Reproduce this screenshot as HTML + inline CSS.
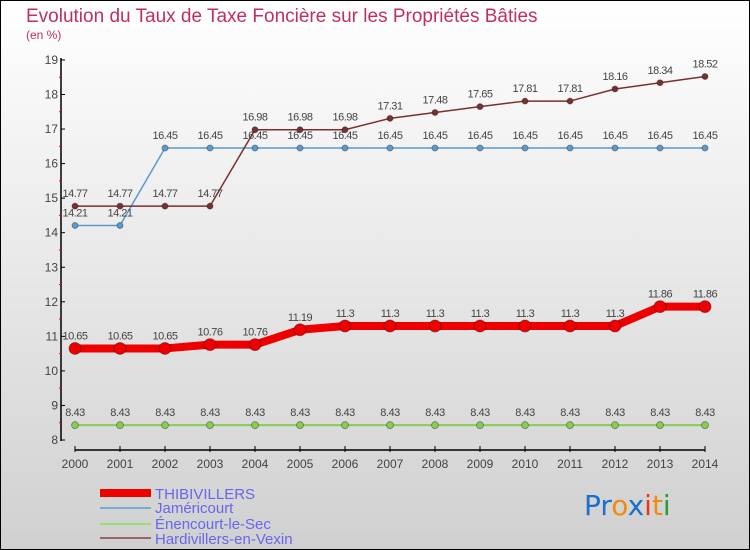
<!DOCTYPE html>
<html><head><meta charset="utf-8"><style>
body{margin:0}
#c{width:750px;height:550px;position:relative;box-sizing:border-box;border:1px solid #000;background:linear-gradient(#ffffff,#d0d0d0);font-family:"Liberation Sans",sans-serif;overflow:hidden}
</style></head><body>
<div id="c">
<svg id="s" width="750" height="550" style="position:absolute;left:-1px;top:-1px">
<text x="26" y="22" font-size="19" fill="#c0305a">Evolution du Taux de Taxe Foncière sur les Propriétés Bâties</text>
<text x="26" y="39" font-size="12" fill="#c0305a">(en %)</text>
<g id="plot"></g>
<g>
<rect x="100" y="489" width="51" height="8" fill="#ee0000"/>
<text x="155" y="499" font-size="15" fill="#6666ee">THIBIVILLERS</text>
<rect x="100" y="507" width="51" height="2" fill="#7aaacc"/>
<text x="155" y="513" font-size="15" fill="#6666ee">Jaméricourt</text>
<rect x="100" y="523" width="51" height="2" fill="#99dd77"/>
<text x="155" y="529" font-size="15" fill="#6666ee">Énencourt-le-Sec</text>
<rect x="100" y="537" width="51" height="2" fill="#996666"/>
<text x="155" y="544" font-size="15" fill="#6666ee">Hardivillers-en-Vexin</text>
</g>
<g font-size="28" font-family="'DejaVu Sans',sans-serif">
<text x="584" y="515"><tspan fill="#1a70cc">Pr</tspan><tspan fill="#f08a10">o</tspan><tspan fill="#1a70cc">x</tspan><tspan fill="#ee3311">i</tspan><tspan fill="#f08a10">t</tspan><tspan fill="#2a9a3a">i</tspan></text>
</g>
</svg>
</div>
<script>
const years=[2000,2001,2002,2003,2004,2005,2006,2007,2008,2009,2010,2011,2012,2013,2014];
const thib=[10.65,10.65,10.65,10.76,10.76,11.19,11.3,11.3,11.3,11.3,11.3,11.3,11.3,11.86,11.86];
const jame=[14.21,14.21,16.45,16.45,16.45,16.45,16.45,16.45,16.45,16.45,16.45,16.45,16.45,16.45,16.45];
const enen=[8.43,8.43,8.43,8.43,8.43,8.43,8.43,8.43,8.43,8.43,8.43,8.43,8.43,8.43,8.43];
const hard=[14.77,14.77,14.77,14.77,16.98,16.98,16.98,17.31,17.48,17.65,17.81,17.81,18.16,18.34,18.52];
const yTicks=[8,9,10,11,12,13,14,15,16,17,18,19];
const NS="http://www.w3.org/2000/svg";
const g=document.getElementById('plot');
const X=i=>75+i*45;
const Y=v=>440-(v-8)*34.55;
function el(t,a){const e=document.createElementNS(NS,t);for(const k in a)e.setAttribute(k,a[k]);g.appendChild(e);return e;}
let ax=el('line',{x1:61,y1:58,x2:61,y2:441,stroke:'#000','stroke-width':1.5});


let bx=el('line',{x1:75,y1:450,x2:705,y2:450,stroke:'#000','stroke-width':1.5});


yTicks.forEach(v=>{
  el('line',{x1:61,y1:Y(v),x2:65,y2:Y(v),stroke:'#000'});
  if(v<19)el('line',{x1:59,y1:Y(v+0.5),x2:62,y2:Y(v+0.5),stroke:'#e00'});
  const t=el('text',{x:58,y:Y(v)+4,'font-size':12,fill:'#444','text-anchor':'end'});
  t.textContent=v;
  
  
});
years.forEach((yr,i)=>{
  el('line',{x1:X(i),y1:446,x2:X(i),y2:452,stroke:'#000'});
  const t=el('text',{x:X(i),y:468,'font-size':12,fill:'#444','text-anchor':'middle'});
  t.textContent=yr;
  
  
});
function series(d,color,w,r,name,lab){
  const p=el('polyline',{points:d.map((v,i)=>X(i)+','+Y(v)).join(' '),fill:'none',stroke:color,'stroke-width':w,'stroke-linejoin':'round'});
  
  
  d.forEach((v,i)=>{
    const c=el('circle',{cx:X(i),cy:Y(v),r:r,fill:color,stroke:'#00000055'});
    
    
    const t=el('text',{x:X(i),y:Y(v)-9,'font-size':11,fill:'#444','text-anchor':'middle','letter-spacing':'-0.5'});
    t.textContent=v;
    
    
  });
}
series(enen,'#88cc55',2,3.5,'enencourt');
series(jame,'#5a9acc',1.5,3,'jamericourt');
series(hard,'#7a3030',1.5,3,'hardivillers');
series(thib,'#ee0000',8,6,'thibivillers');
</script>
</body></html>
